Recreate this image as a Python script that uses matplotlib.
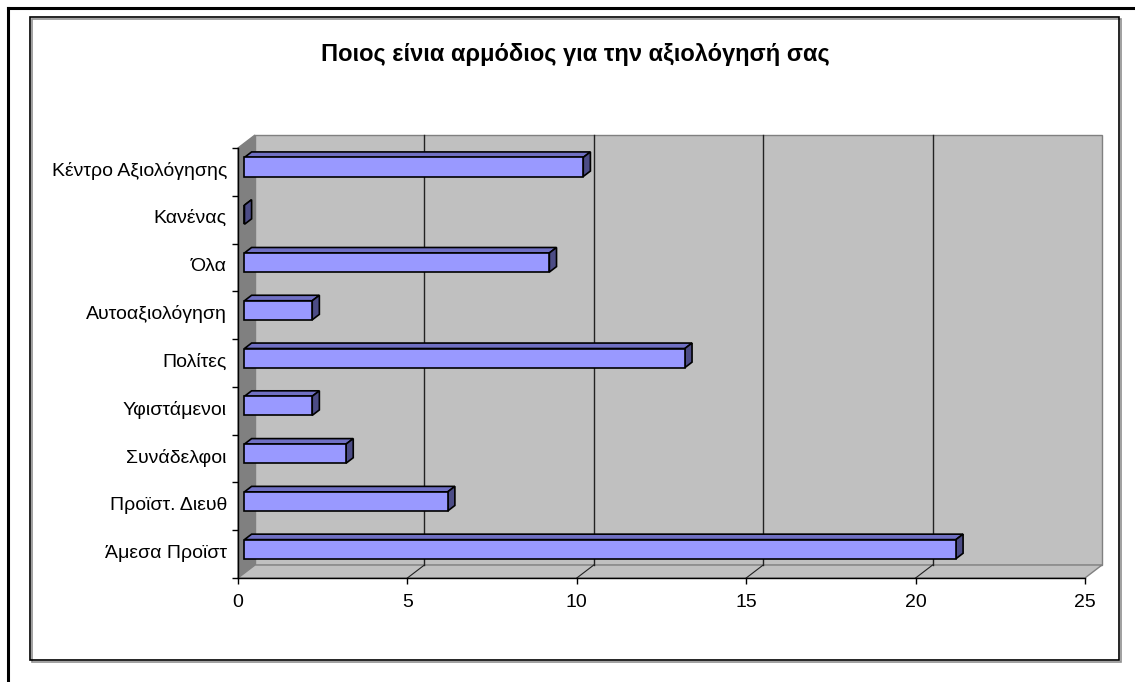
import matplotlib
matplotlib.use("Agg")
import matplotlib.pyplot as plt
from matplotlib.patches import Polygon, Rectangle
from matplotlib.lines import Line2D

plt.rcParams["font.family"] = ["Liberation Sans", "DejaVu Sans"]

# categories listed bottom -> top
categories = ["Άμεσα Προϊστ", "Προϊστ. Διευθ", "Συνάδελφοι", "Υφιστάμενοι",
              "Πολίτες", "Αυτοαξιολόγηση", "Όλα", "Κανένας", "Κέντρο Αξιολόγησης"]
values = [21, 6, 3, 2, 13, 2, 9, 0, 10]
xticks = [0, 5, 10, 15, 20, 25]
title = "Ποιος είνια αρμόδιος για την αξιολόγησή σας"

W, H = 1135, 682
fig = plt.figure(figsize=(W / 100, H / 100), dpi=100)

# front plane of the 3-D box in pixels
x0, x1, ytop, ybot = 238, 1085, 148, 578
ax = fig.add_axes([x0 / W, (H - ybot) / H, (x1 - x0) / W, (ybot - ytop) / H])
n = len(categories)
xmax = xticks[-1]
ax.set_xlim(0, xmax)
ax.set_ylim(0, n)
ax.patch.set_visible(False)

# depth of the box in data units
DX = 17 / ((x1 - x0) / xmax)
DY = 13 / ((ybot - ytop) / n)

WALL = "#c0c0c0"
SIDE = "#808080"
EDGE = "#808080"

# back wall, side wall, floor
ax.add_patch(Rectangle((DX, DY), xmax, n, facecolor=WALL, edgecolor=EDGE,
                       lw=1, zorder=0, clip_on=False))
ax.add_patch(Polygon([(0, 0), (DX, DY), (DX, n + DY), (0, n)], closed=True,
                     facecolor=SIDE, edgecolor=SIDE, lw=1, zorder=0, clip_on=False))
ax.add_patch(Polygon([(0, 0), (xmax, 0), (xmax + DX, DY), (DX, DY)], closed=True,
                     facecolor=WALL, edgecolor=EDGE, lw=1, zorder=0, clip_on=False))

# gridlines on back wall + floor
for v in xticks[1:-1]:
    ax.add_line(Line2D([v + DX, v + DX], [DY, n + DY], color="#222222", lw=1,
                       zorder=1, clip_on=False))
    ax.add_line(Line2D([v, v + DX], [0, DY], color="#222222", lw=0.8,
                       zorder=1, clip_on=False))

# 3-D bars
d0, d1 = 0.38, 0.8
half = 0.2
FRONT, TOP, RIGHT = "#9999ff", "#7070c4", "#4c4c86"
for i, v in enumerate(values):
    c = i + 0.5
    fx, fy = d0 * DX, d0 * DY
    bx, by = d1 * DX, d1 * DY
    lo, hi = c - half, c + half
    kw = dict(edgecolor="black", lw=1.2, joinstyle="miter", zorder=3, clip_on=False)
    ax.add_patch(Polygon([(fx, hi + fy), (v + fx, hi + fy), (v + bx, hi + by), (bx, hi + by)],
                         closed=True, facecolor=TOP, **kw))
    ax.add_patch(Polygon([(v + fx, lo + fy), (v + fx, hi + fy), (v + bx, hi + by), (v + bx, lo + by)],
                         closed=True, facecolor=RIGHT, **kw))
    ax.add_patch(Rectangle((fx, lo + fy), v, 2 * half, facecolor=FRONT, **kw))

# axes / ticks
for s in ["top", "right"]:
    ax.spines[s].set_visible(False)
for s in ["left", "bottom"]:
    ax.spines[s].set_color("black")
    ax.spines[s].set_linewidth(1)
    ax.spines[s].set_zorder(2)

ax.set_xticks(xticks)
ax.set_xticklabels([str(t) for t in xticks], fontsize=14)
ax.tick_params(axis="x", direction="out", length=4.5, width=1, pad=7)

ax.set_yticks([i + 0.5 + 0.06 for i in range(n)])
ax.set_yticklabels(categories, fontsize=14)
ax.set_yticks(range(n + 1), minor=True)
ax.tick_params(axis="y", which="major", length=0, pad=8)
ax.tick_params(axis="y", which="minor", direction="out", length=4.5, width=1)

fig.text(575 / W, 1 - 55 / H, title, ha="center", va="center",
         fontsize=17, fontweight="bold")

# chart-area frame with a soft shadow
fx0, fy0, fx1, fy1 = 30, 17, 1119, 660
fig.add_artist(Rectangle(((fx0 + 1.5) / W, 1 - (fy1 + 1.5) / H), (fx1 - fx0) / W, (fy1 - fy0) / H,
                         transform=fig.transFigure, facecolor="none", edgecolor="#909090", lw=1.2))
fig.add_artist(Rectangle((fx0 / W, 1 - fy1 / H), (fx1 - fx0) / W, (fy1 - fy0) / H,
                         transform=fig.transFigure, facecolor="none", edgecolor="black", lw=1.2))

# outer page border (top and left only)
fig.add_artist(Line2D([8 / W, 1], [1 - 8 / H, 1 - 8 / H], transform=fig.transFigure,
                      color="black", lw=2.2))
fig.add_artist(Line2D([8 / W, 8 / W], [0, 1 - 8 / H], transform=fig.transFigure,
                      color="black", lw=2.2))

fig.savefig("out.png", dpi=100, facecolor="white")
